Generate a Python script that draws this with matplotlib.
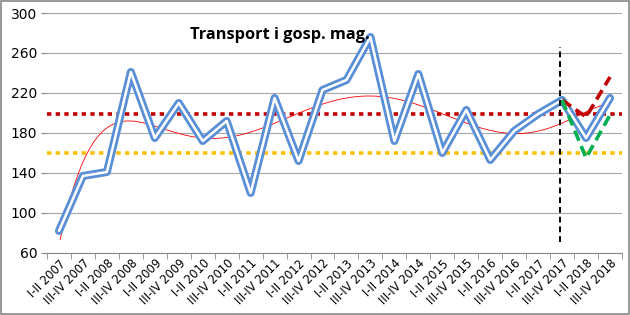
import matplotlib.pyplot as plt
import numpy as np

labels = []
for year in range(2007, 2019):
    labels.append("I-II %d" % year)
    labels.append("III-IV %d" % year)

values = [82, 137, 141, 241, 175, 210, 172, 192, 120, 215, 152, 223,
          233, 276, 172, 239, 160, 203, 153, 182, 199, 213, 175, 215]

# wariant pesymistyczny / optymistyczny od III-IV 2017
red_fc = [213, 196, 236]
green_fc = [213, 155, 198]
upper_level = 199
lower_level = 160

x = np.arange(len(values))

fig = plt.figure(figsize=(6.3, 3.15), dpi=100)
ax = fig.add_axes([0.0746, 0.197, 0.9127, 0.7617])

ax.set_ylim(60, 300)
ax.set_xlim(-0.5, len(values) - 0.5)
ax.set_yticks(np.arange(60, 301, 40))
ax.yaxis.grid(True, color="#a6a6a6", linewidth=0.8)
ax.set_axisbelow(True)

ax.axhline(upper_level, color="#c00000", linestyle=(0, (1.2, 1.2)), linewidth=2.6)
ax.axhline(lower_level, color="#ffc000", linestyle=(0, (1.2, 1.2)), linewidth=2.6)

# trend wielomianowy jak w Excelu
coef = np.polyfit(x, values, 6)
xs = np.linspace(0.05, 22.8, 300)
ax.plot(xs, np.polyval(coef, xs), color="#ff0000", linewidth=0.6, clip_on=True)

ax.plot(x, values, color="#5a8fd6", linewidth=5.8, solid_joinstyle="round", solid_capstyle="round")
ax.plot(x, values, color="white", linewidth=1.8, solid_joinstyle="round", solid_capstyle="round")

fx = x[-3:]
ax.plot(fx, red_fc, color="#c00000", linestyle=(0, (3, 1.6)), linewidth=2.6)
ax.plot(fx, green_fc, color="#00b050", linestyle=(0, (3, 1.6)), linewidth=2.6)

ax.plot([20.9, 20.9], [71, 266], color="black", linestyle=(0, (3, 2)), linewidth=1.4)

ax.text(0.248, 0.893, "Transport i gosp. mag.", transform=ax.transAxes,
        fontsize=11.8, fontweight="bold", family="Open Sans")

ax.set_xticks(x)
ax.set_xticklabels(labels, rotation=45, ha="right", rotation_mode="anchor", fontsize=8.3)
ax.set_xticks(np.arange(-0.5, len(values), 1), minor=True)
ax.tick_params(axis="x", which="major", length=0, pad=3)
ax.tick_params(axis="x", which="minor", length=4, color="#888888")
ax.tick_params(axis="y", length=4, color="#888888", labelsize=10, pad=3)

for s in ["top", "right", "left"]:
    ax.spines[s].set_visible(False)
ax.spines["bottom"].set_color("#888888")

fig.patches.append(plt.Rectangle((0.002, 0.003), 0.996, 0.994, transform=fig.transFigure,
                                 fill=False, edgecolor="#888888", linewidth=1.2))

fig.savefig("out.png", dpi=100)
